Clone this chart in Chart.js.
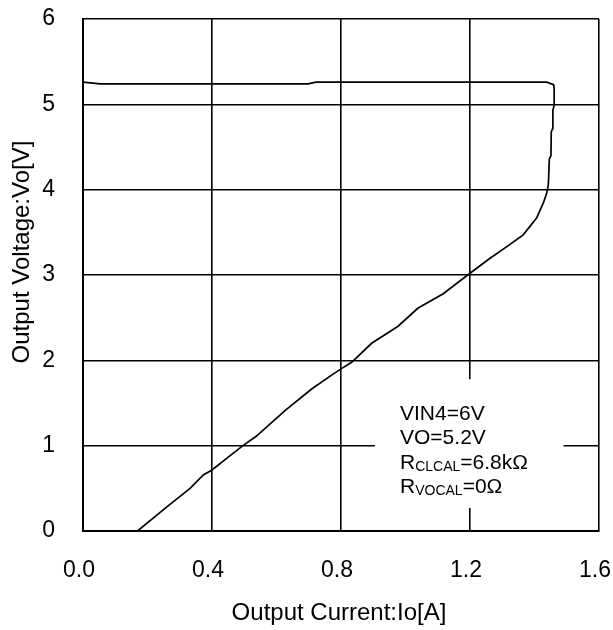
<!DOCTYPE html>
<html>
<head>
<meta charset="utf-8">
<script src="https://cdn.jsdelivr.net/npm/chart.js@4/dist/chart.umd.min.js"></script>
<style>
  html, body { margin: 0; padding: 0; background: #fff; }
  #wrap { width: 613px; height: 630px; }
</style>
</head>
<body>
<div id="wrap"><canvas id="c" width="613" height="630"></canvas></div>
<script>
// ---- Data ----
const currentA = [0.0, 0.053, 0.30, 0.698, 0.722, 1.0, 1.438, 1.459, 1.461, 1.461, 1.457, 1.457, 1.452, 1.451, 1.446, 1.443, 1.438, 1.428, 1.407, 1.365, 1.313, 1.26, 1.2, 1.117, 1.038, 0.977, 0.895, 0.834, 0.8, 0.772, 0.711, 0.629, 0.537, 0.496, 0.465, 0.4, 0.373, 0.332, 0.261, 0.169];
const voltageV = [5.26, 5.24, 5.24, 5.24, 5.26, 5.26, 5.26, 5.23, 5.19, 4.99, 4.93, 4.72, 4.68, 4.40, 4.36, 4.06, 3.96, 3.85, 3.67, 3.47, 3.33, 3.19, 3.02, 2.78, 2.61, 2.40, 2.20, 1.98, 1.90, 1.83, 1.67, 1.42, 1.11, 1.00, 0.91, 0.715, 0.656, 0.50, 0.285, 0.0];
const xTicks = [0.0, 0.4, 0.8, 1.2, 1.6];
const yTicks = [0, 1, 2, 3, 4, 5, 6];
const xTitle = "Output Current:Io[A]";
const yTitle = "Output Voltage:Vo[V]";
const noteLines = [
  { main: "VIN4=6V" },
  { main: "VO=5.2V" },
  { main: "R", sub: "CLCAL", rest: "=6.8kΩ" },
  { main: "R", sub: "VOCAL", rest: "=0Ω" }
];

const FONT = "'Liberation Sans', Arial, sans-serif";
const points = currentA.map((x, i) => ({ x: x, y: voltageV[i] }));

const decorPlugin = {
  id: 'decor',
  beforeDatasetsDraw(chart) {
    const ctx = chart.ctx;
    const xs = chart.scales.x, ys = chart.scales.y;
    // white box behind the note (interrupts grid lines)
    const l = xs.getPixelForValue(0.905), r = xs.getPixelForValue(1.49);
    const t = ys.getPixelForValue(1.78), b = ys.getPixelForValue(0.27);
    ctx.save();
    ctx.fillStyle = '#fff';
    ctx.fillRect(l, t, r - l, b - t);
    ctx.restore();
  },
  afterDraw(chart) {
    const ctx = chart.ctx;
    const xs = chart.scales.x, ys = chart.scales.y;
    const ca = chart.chartArea;
    ctx.save();
    ctx.fillStyle = '#000';
    // axis titles
    ctx.font = "24px " + FONT;
    ctx.textAlign = 'center';
    ctx.textBaseline = 'alphabetic';
    ctx.fillText(xTitle, (ca.left + ca.right) / 2 - 2, 620);
    ctx.save();
    ctx.translate(29, 252);
    ctx.rotate(-Math.PI / 2);
    ctx.fillText(yTitle, 0, 0);
    ctx.restore();
    // note text
    ctx.textAlign = 'left';
    const x0 = xs.getPixelForValue(0.983);
    const baseY = [420, 444, 469, 493];
    noteLines.forEach((ln, i) => {
      let x = x0;
      const y = baseY[i];
      ctx.font = "21px " + FONT;
      ctx.fillText(ln.main, x, y);
      x += ctx.measureText(ln.main).width;
      if (ln.sub) {
        ctx.font = "14px " + FONT;
        ctx.fillText(ln.sub, x, y + 2);
        x += ctx.measureText(ln.sub).width;
        ctx.font = "21px " + FONT;
        ctx.fillText(ln.rest, x, y);
      }
    });
    ctx.restore();
  }
};

new Chart(document.getElementById('c'), {
  type: 'scatter',
  data: {
    datasets: [{
      data: points,
      showLine: true,
      borderColor: '#000',
      borderWidth: 1.7,
      pointRadius: 0,
      tension: 0,
      fill: false
    }]
  },
  options: {
    responsive: false,
    animation: false,
    events: [],
    layout: { padding: { top: 19, right: 14, left: 0, bottom: 0 } },
    plugins: { legend: { display: false }, tooltip: { enabled: false } },
    scales: {
      x: {
        type: 'linear',
        min: 0, max: 1.6,
        afterBuildTicks(scale) { scale.ticks = xTicks.map(v => ({ value: v })); },
        afterFit(scale) { scale.height = 99; scale.paddingLeft = 0; scale.paddingRight = 0; },
        ticks: {
          color: '#000',
          font: { size: 23, family: FONT },
          padding: 26,
          labelOffset: -4,
          maxRotation: 0,
          callback: v => Number(v).toFixed(1)
        },
        grid: { color: '#000', lineWidth: 1.6, drawTicks: false },
        border: { color: '#000', width: 2 }
      },
      y: {
        type: 'linear',
        min: 0, max: 6,
        afterBuildTicks(scale) { scale.ticks = yTicks.map(v => ({ value: v })); },
        afterFit(scale) { scale.width = 83; scale.paddingTop = 0; scale.paddingBottom = 0; },
        ticks: {
          color: '#000',
          font: { size: 23, family: FONT },
          padding: 28,
          callback: v => String(v)
        },
        grid: { color: '#000', lineWidth: 1.6, drawTicks: false },
        border: { color: '#000', width: 2 }
      }
    }
  },
  plugins: [decorPlugin]
});
</script>
</body>
</html>
